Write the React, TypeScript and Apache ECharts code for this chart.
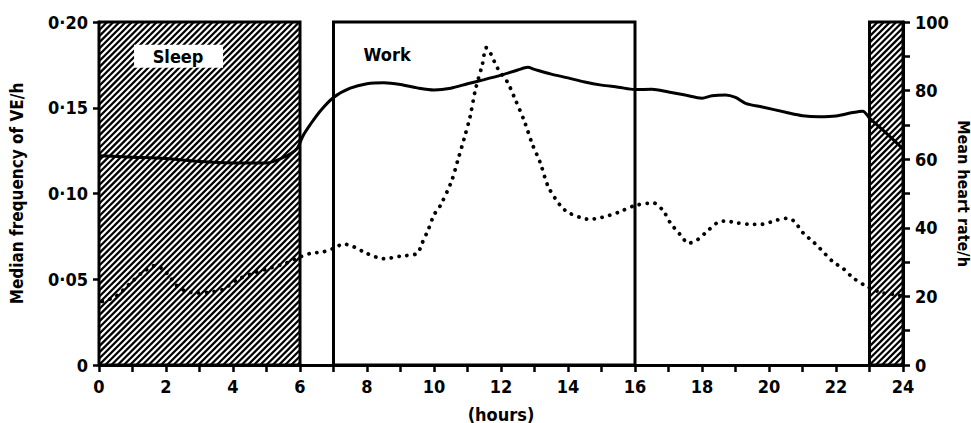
import React, { useEffect, useRef } from "react";
import * as echarts from "echarts";

// Periods (hours)
const sleepPeriods: number[][] = [[0, 6], [23, 24]];
const workPeriods: number[][] = [[7, 16]];

// Box labels
const boxLabels: string[] = ["Sleep", "Work"];
const boxLabelPos: number[][] = [[2.36, 0.18], [8.6, 0.181]];

// Mean heart rate (right axis), [hour, beats]
const heartRate: number[][] = [
  [0, 61], [1, 60.6], [2, 60.2], [3, 59.3], [4, 58.9], [5, 58.9], [5.5, 60.5],
  [5.9, 63], [6.1, 67], [6.3, 70], [6.6, 74], [7, 78], [7.5, 80.7], [8, 82],
  [8.5, 82.3], [9, 81.8], [9.5, 80.8], [10, 80.2], [10.5, 80.7], [11, 82],
  [11.5, 83.2], [12, 84.5], [12.5, 86], [12.8, 86.8], [13, 86.2], [13.5, 84.8],
  [14, 83.7], [14.5, 82.5], [15, 81.6], [15.5, 81], [16, 80.3], [16.5, 80.4],
  [17, 79.6], [17.5, 78.7], [18, 77.8], [18.3, 78.5], [18.7, 78.7], [19, 78],
  [19.3, 76.3], [19.8, 75.2], [20.5, 73.7], [21, 72.7], [21.5, 72.4], [22, 72.6],
  [22.5, 73.6], [22.8, 74], [23, 72], [23.5, 67.6], [24, 63],
];

// Median frequency of VE/h (left axis), [hour, value]
const veFrequency: number[][] = [
  [0.1, 0.037], [0.5, 0.04], [0.9, 0.047], [1.3, 0.054], [1.7, 0.058], [2.0, 0.054],
  [2.4, 0.045], [2.9, 0.042], [3.3, 0.0425], [3.7, 0.044], [4.1, 0.0495], [4.6, 0.0535],
  [5.1, 0.0565], [5.6, 0.0595], [6.0, 0.063], [6.3, 0.065], [6.7, 0.066], [7.0, 0.068],
  [7.3, 0.0705], [7.6, 0.069], [8.0, 0.065], [8.5, 0.062], [9.0, 0.0635], [9.5, 0.065],
  [9.62, 0.07], [9.83, 0.079], [10.0, 0.0875], [10.19, 0.093], [10.52, 0.107],
  [10.72, 0.12], [10.9, 0.132], [11.08, 0.145], [11.23, 0.16], [11.44, 0.175],
  [11.56, 0.185], [11.68, 0.182], [11.9, 0.173], [12.19, 0.165], [12.4, 0.156],
  [12.7, 0.142], [12.93, 0.129], [13.17, 0.118], [13.41, 0.104], [13.77, 0.093],
  [14.0, 0.089], [14.37, 0.086], [14.63, 0.085], [15.0, 0.086], [15.5, 0.089],
  [16.0, 0.093], [16.55, 0.0945], [16.84, 0.09], [17.05, 0.083], [17.35, 0.076],
  [17.6, 0.071], [17.86, 0.073], [18.1, 0.077], [18.46, 0.083], [18.7, 0.084],
  [19.0, 0.083], [19.5, 0.082], [19.75, 0.082], [20.24, 0.0845], [20.54, 0.0855],
  [20.74, 0.084], [21.02, 0.077], [21.32, 0.0718], [21.52, 0.068], [21.92, 0.06],
  [22.2, 0.0565], [22.5, 0.051], [22.9, 0.046], [23.4, 0.042], [23.8, 0.041], [24, 0.04],
];

const FONT = '"DejaVu Sans Condensed", "DejaVu Sans", sans-serif';

function hatchRenderItem(params: any, api: any) {
  const x0 = api.value(0);
  const x1 = api.value(1);
  const tl = api.coord([x0, 0.2]);
  const br = api.coord([x1, 0]);
  const L = tl[0], T = tl[1], R = br[0], B = br[1];
  const children: any[] = [
    { type: "rect", shape: { x: L, y: T, width: R - L, height: B - T }, style: { fill: "#fff" } },
  ];
  const step = 6.2;
  for (let c = L + T + 2; c < R + B; c += step) {
    const xa = Math.max(L, c - B);
    const xb = Math.min(R, c - T);
    if (xb <= xa) continue;
    children.push({
      type: "line",
      shape: { x1: xa, y1: c - xa, x2: xb, y2: c - xb },
      style: { stroke: "#000", lineWidth: 2.3 },
    });
  }
  children.push({
    type: "rect",
    shape: { x: L, y: T, width: R - L, height: B - T },
    style: { fill: "none", stroke: "#000", lineWidth: 3 },
  });
  return { type: "group", children };
}

function boxRenderItem(params: any, api: any) {
  const tl = api.coord([api.value(0), 0.2]);
  const br = api.coord([api.value(1), 0]);
  return {
    type: "rect",
    shape: { x: tl[0], y: tl[1], width: br[0] - tl[0], height: br[1] - tl[1] },
    style: { fill: "none", stroke: "#000", lineWidth: 3 },
  };
}

function labelRenderItem(params: any, api: any) {
  const p = api.coord([api.value(0), api.value(1)]);
  const txt = boxLabels[params.dataIndex];
  const children: any[] = [];
  if (txt === "Sleep") {
    children.push({
      type: "rect",
      shape: { x: p[0] - 44, y: p[1] - 11.5, width: 89, height: 23 },
      style: { fill: "#fff" },
    });
  }
  children.push({
    type: "text",
    x: p[0],
    y: p[1],
    style: {
      text: txt,
      fill: "#000",
      font: `bold 18px ${FONT}`,
      align: "center",
      verticalAlign: "middle",
    },
  });
  return { type: "group", children };
}

export default function App() {
  const ref = useRef<HTMLDivElement>(null);
  useEffect(() => {
    document.body.style.margin = "0";
    if (!ref.current) return;
    const chart = echarts.init(ref.current, undefined, { renderer: "svg" });
    const axisText = { color: "#000", fontFamily: FONT, fontWeight: "bold" as const, fontSize: 18 };
    chart.setOption({
      animation: false,
      backgroundColor: "#fff",
      grid: { left: 99, right: 68, top: 22, bottom: 58, containLabel: false, outerBoundsMode: "none" },
      xAxis: {
        type: "value",
        min: 0,
        max: 24,
        interval: 1,
        name: "(hours)",
        nameLocation: "middle",
        nameGap: 40,
        nameTextStyle: { ...axisText },
        axisLine: { show: true, lineStyle: { color: "#000", width: 3 } },
        axisTick: { show: true, length: 7, lineStyle: { color: "#000", width: 2.5 } },
        axisLabel: {
          ...axisText,
          margin: 12,
          formatter: (v: number) => (v % 2 === 0 ? String(v) : ""),
        },
        splitLine: { show: false },
      },
      yAxis: [
        {
          type: "value",
          position: "left",
          min: 0,
          max: 0.2,
          interval: 0.05,
          name: "Median frequency of VE/h",
          nameLocation: "middle",
          nameRotate: 90,
          nameGap: 74,
          nameTextStyle: { ...axisText, fontSize: 17 },
          axisLine: { show: true, lineStyle: { color: "#000", width: 3 } },
          axisTick: { show: true, length: 6, lineStyle: { color: "#000", width: 2.5 } },
          axisLabel: {
            ...axisText,
            margin: 11,
            formatter: (v: number) => (v === 0 ? "0" : v.toFixed(2).replace(".", "·")),
          },
          splitLine: { show: false },
        },
        {
          type: "value",
          position: "right",
          min: 0,
          max: 100,
          interval: 10,
          name: "Mean heart rate/h",
          nameLocation: "middle",
          nameRotate: -90,
          nameGap: 52,
          nameMoveOverlap: false,
          nameTextStyle: { ...axisText, fontSize: 16, lineHeight: 16 },
          axisLine: { show: true, lineStyle: { color: "#000", width: 3 } },
          axisTick: { show: true, length: 7, lineStyle: { color: "#000", width: 2.5 } },
          axisLabel: {
            ...axisText,
            margin: 12,
            formatter: (v: number) => (v % 20 === 0 ? String(v) : ""),
          },
          splitLine: { show: false },
        },
      ],
      series: [
        {
          type: "custom",
          name: "Sleep",
          renderItem: hatchRenderItem,
          data: sleepPeriods,
          encode: { x: [0, 1] },
          xAxisIndex: 0,
          yAxisIndex: 0,
          z: 1,
          silent: true,
        },
        {
          type: "custom",
          name: "Work",
          renderItem: boxRenderItem,
          data: workPeriods,
          encode: { x: [0, 1] },
          xAxisIndex: 0,
          yAxisIndex: 0,
          z: 1,
          silent: true,
        },
        {
          type: "custom",
          name: "labels",
          renderItem: labelRenderItem,
          data: boxLabelPos,
          encode: { x: 0, y: 1 },
          xAxisIndex: 0,
          yAxisIndex: 0,
          z: 5,
          silent: true,
        },
        {
          type: "line",
          name: "Mean heart rate",
          data: heartRate,
          yAxisIndex: 1,
          showSymbol: false,
          smooth: 0.3,
          lineStyle: { color: "#000", width: 3 },
          z: 4,
        },
        {
          type: "line",
          name: "Median frequency of VE",
          data: veFrequency,
          yAxisIndex: 0,
          showSymbol: false,
          smooth: 0.3,
          lineStyle: { color: "#000", width: 3.8, type: [0.1, 7.8], cap: "round" },
          z: 3,
        },
      ],
    });
    return () => chart.dispose();
  }, []);
  return <div ref={ref} style={{ width: 971, height: 423 }} />;
}
